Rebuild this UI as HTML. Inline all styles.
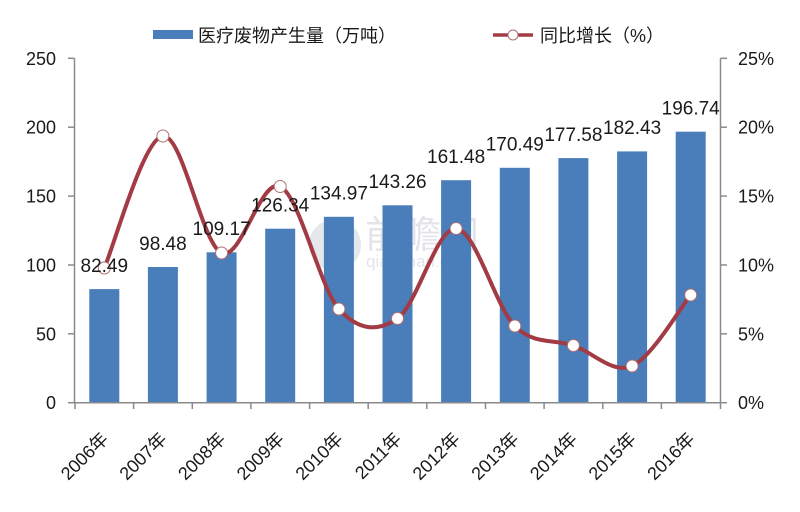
<!DOCTYPE html>
<html>
<head>
<meta charset="utf-8">
<style>
html,body{margin:0;padding:0;background:#fff;}
svg{display:block;}
text{font-family:"Liberation Sans","Noto Sans CJK SC",sans-serif;fill:#1a1a1a;}
</style>
</head>
<body>
<svg width="800" height="512" viewBox="0 0 800 512" xmlns="http://www.w3.org/2000/svg">
<rect width="800" height="512" fill="#fff"/>

<!-- watermark -->
<g opacity="0.22">
  <circle cx="335" cy="245" r="26" fill="#8b96aa"/>
  <text x="365" y="248" font-size="38" style="fill:#7d8aa3">前瞻网</text>
  <text x="366" y="267" font-size="17" style="fill:#7d8aa3">qianzhan.com</text>
</g>

<!-- bars -->
<g fill="#4a7ebb">
  <rect x="89.3" y="289.1" width="30" height="113.6"/>
  <rect x="147.9" y="267.0" width="30" height="135.7"/>
  <rect x="206.6" y="252.3" width="30" height="150.4"/>
  <rect x="265.2" y="228.7" width="30" height="174.0"/>
  <rect x="323.9" y="216.8" width="30" height="185.9"/>
  <rect x="382.5" y="205.3" width="30" height="197.4"/>
  <rect x="441.1" y="180.2" width="30" height="222.5"/>
  <rect x="499.8" y="167.8" width="30" height="234.9"/>
  <rect x="558.4" y="158.1" width="30" height="244.6"/>
  <rect x="617.1" y="151.4" width="30" height="251.3"/>
  <rect x="675.7" y="131.7" width="30" height="271.0"/>
</g>

<!-- axes -->
<g stroke="#8a8a8a" stroke-width="1.5" fill="none">
  <line x1="74.5" y1="58.3" x2="74.5" y2="402.7"/>
  <line x1="720.5" y1="58.3" x2="720.5" y2="402.7"/>
  <line x1="74.5" y1="402.7" x2="720.5" y2="402.7"/>
  <line x1="68" y1="58.3" x2="74.5" y2="58.3"/>
  <line x1="68" y1="127.2" x2="74.5" y2="127.2"/>
  <line x1="68" y1="196.1" x2="74.5" y2="196.1"/>
  <line x1="68" y1="265.0" x2="74.5" y2="265.0"/>
  <line x1="68" y1="333.8" x2="74.5" y2="333.8"/>
  <line x1="68" y1="402.7" x2="74.5" y2="402.7"/>
  <line x1="720.5" y1="58.3" x2="727" y2="58.3"/>
  <line x1="720.5" y1="127.2" x2="727" y2="127.2"/>
  <line x1="720.5" y1="196.1" x2="727" y2="196.1"/>
  <line x1="720.5" y1="265.0" x2="727" y2="265.0"/>
  <line x1="720.5" y1="333.8" x2="727" y2="333.8"/>
  <line x1="720.5" y1="402.7" x2="727" y2="402.7"/>
  <line x1="75" y1="402.7" x2="75" y2="409"/>
  <line x1="133.6" y1="402.7" x2="133.6" y2="409"/>
  <line x1="192.3" y1="402.7" x2="192.3" y2="409"/>
  <line x1="250.9" y1="402.7" x2="250.9" y2="409"/>
  <line x1="309.6" y1="402.7" x2="309.6" y2="409"/>
  <line x1="368.2" y1="402.7" x2="368.2" y2="409"/>
  <line x1="426.8" y1="402.7" x2="426.8" y2="409"/>
  <line x1="485.5" y1="402.7" x2="485.5" y2="409"/>
  <line x1="544.1" y1="402.7" x2="544.1" y2="409"/>
  <line x1="602.8" y1="402.7" x2="602.8" y2="409"/>
  <line x1="661.4" y1="402.7" x2="661.4" y2="409"/>
  <line x1="720.5" y1="402.7" x2="720.5" y2="409"/>
</g>

<!-- left axis labels -->
<g font-size="18" text-anchor="end">
  <text x="56" y="64.8">250</text>
  <text x="56" y="133.7">200</text>
  <text x="56" y="202.6">150</text>
  <text x="56" y="271.5">100</text>
  <text x="56" y="340.3">50</text>
  <text x="56" y="409.2">0</text>
</g>
<!-- right axis labels -->
<g font-size="18">
  <text x="738" y="64.8">25%</text>
  <text x="738" y="133.7">20%</text>
  <text x="738" y="202.6">15%</text>
  <text x="738" y="271.5">10%</text>
  <text x="738" y="340.3">5%</text>
  <text x="738" y="409.2">0%</text>
</g>

<!-- line series -->
<path d="M104.3,268 C114.1,246 143.4,138.5 162.9,136
 C182.5,133.5 202.1,244.6 221.6,253
 C241.2,261.4 260.7,177.2 280.2,186.5
 C299.8,195.8 319.4,287 338.9,309
 C358.5,331 378.0,331.9 397.5,318.5
 C417.0,305.1 436.6,227.3 456.1,228.5
 C475.6,229.75 495.3,306.5 514.8,326
 C534.4,345.5 553.9,338.8 573.4,345.5
 C593.0,352.2 612.6,374.4 632.1,366
 C651.6,357.6 680.9,306.8 690.7,295"
 fill="none" stroke="#a23b43" stroke-width="4" stroke-linecap="round" stroke-linejoin="round"/>

<g fill="#fff" stroke="#b07070" stroke-width="1">
  <circle cx="104.3" cy="268" r="6"/>
  <circle cx="162.9" cy="136" r="6"/>
  <circle cx="221.6" cy="253" r="6"/>
  <circle cx="280.2" cy="186.5" r="6"/>
  <circle cx="338.9" cy="309" r="6"/>
  <circle cx="397.5" cy="318.5" r="6"/>
  <circle cx="456.1" cy="228.5" r="6"/>
  <circle cx="514.8" cy="326" r="6"/>
  <circle cx="573.4" cy="345.5" r="6"/>
  <circle cx="632.1" cy="366" r="6"/>
  <circle cx="690.7" cy="295" r="6"/>
</g>

<!-- data labels -->
<g font-size="19" text-anchor="middle">
  <text x="104.3" y="271.9">82.49</text>
  <text x="162.9" y="249.8">98.48</text>
  <text x="221.6" y="235.1">109.17</text>
  <text x="280.2" y="211.5">126.34</text>
  <text x="338.9" y="199.6">134.97</text>
  <text x="397.5" y="188.1">143.26</text>
  <text x="456.1" y="163.0">161.48</text>
  <text x="514.8" y="150.6">170.49</text>
  <text x="573.4" y="140.9">177.58</text>
  <text x="632.1" y="134.2">182.43</text>
  <text x="690.7" y="114.5">196.74</text>
</g>

<!-- x labels -->
<g font-size="18" text-anchor="end">
  <text transform="translate(109.3,440) rotate(-45)">2006年</text>
  <text transform="translate(167.9,440) rotate(-45)">2007年</text>
  <text transform="translate(226.6,440) rotate(-45)">2008年</text>
  <text transform="translate(285.2,440) rotate(-45)">2009年</text>
  <text transform="translate(343.9,440) rotate(-45)">2010年</text>
  <text transform="translate(402.5,440) rotate(-45)">2011年</text>
  <text transform="translate(461.1,440) rotate(-45)">2012年</text>
  <text transform="translate(519.8,440) rotate(-45)">2013年</text>
  <text transform="translate(578.4,440) rotate(-45)">2014年</text>
  <text transform="translate(637.1,440) rotate(-45)">2015年</text>
  <text transform="translate(695.7,440) rotate(-45)">2016年</text>
</g>

<!-- legend -->
<rect x="153" y="30" width="40" height="9" fill="#4a7ebb"/>
<text x="198" y="42" font-size="18">医疗废物产生量（万吨）</text>
<line x1="493" y1="35" x2="533" y2="35" stroke="#a23b43" stroke-width="3.5"/>
<circle cx="513" cy="35" r="5" fill="#fff" stroke="#b07070" stroke-width="1"/>
<text x="540" y="42" font-size="18">同比增长（%）</text>
</svg>
</body>
</html>
